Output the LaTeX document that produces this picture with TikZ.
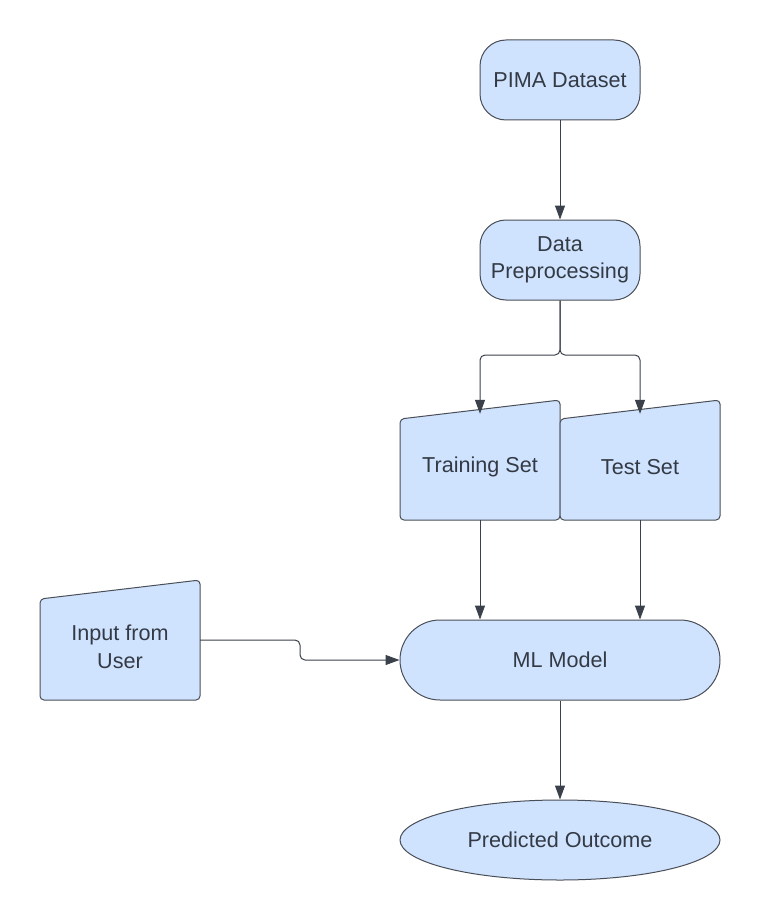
\documentclass[tikz,border=0pt]{standalone}
\usepackage{fontspec}
\setmainfont{Liberation Sans}
\usepackage{tikz}
\usetikzlibrary{arrows.meta,positioning,calc,shapes.geometric}
\definecolor{boxfill}{HTML}{CFE3FF}
\definecolor{boxline}{HTML}{4A4F57}
\definecolor{textgrey}{HTML}{343A44}
\definecolor{wireline}{HTML}{3A414A}
\tikzset{
box/.style={draw=boxline,fill=boxfill,line width=1pt,text=textgrey,align=center,
  font=\fontsize{21.6}{27.5}\selectfont,inner sep=0pt},
plain/.style={text=textgrey,align=center,font=\fontsize{21.6}{27.5}\selectfont,inner sep=0pt,
  minimum width=160,minimum height=106},
wire/.style={draw=wireline,line width=1pt,rounded corners=5pt,-{Triangle[width=10pt,length=14pt]}}
}
\newcommand \mydrawmanual[3]
{
\draw[box,rounded corners=4pt] ($(#2)+(-80,-48)$)--($(#2)+(80,-67)$)--($(#2)+(80,53)$)--($(#2)+(-80,53)$)--cycle;
\node[plain] (#1) at (#2) {#3};
}

\begin{document}
\begin{tikzpicture}[x=1pt,y=-1pt,line join=round]
\useasboundingbox[fill=white] (0,0) rectangle (760,920);
\node[box,rounded corners=26pt,minimum width=160,minimum height=80] (pima) at (560,80)  {PIMA Dataset};
\node[box,rounded corners=26pt,minimum width=160,minimum height=80] (prep) at (560,260) {Data\\Preprocessing};
\mydrawmanual{train}{480,467}{Training Set}
\mydrawmanual{test}{640,467}{Test Set}
\mydrawmanual{user}{120,647}{Input from\\User}
\node[box,rounded corners=40pt,minimum width=320,minimum height=80] (model) at (560,660) {ML Model};
\node[box,ellipse,minimum width=320,minimum height=80] (outcome) at (560,840) {Predicted Outcome};
\coordinate (split) at (560,355);
\coordinate (bend) at (300,660);
\draw[wire] (pima)--(prep);
\draw[wire] (prep.south)--(split)-|(train.north);
\draw[wire] (prep.south)--(split)-|(test.north);
\draw[wire] (train.south)--(train.south |- model.north);
\draw[wire] (test.south)--(test.south |- model.north);
\draw[wire] ([yshift=7pt]user.east)-|(bend)--(model.west);
\draw[wire] (model)--(outcome);
\end{tikzpicture}
\end{document}
